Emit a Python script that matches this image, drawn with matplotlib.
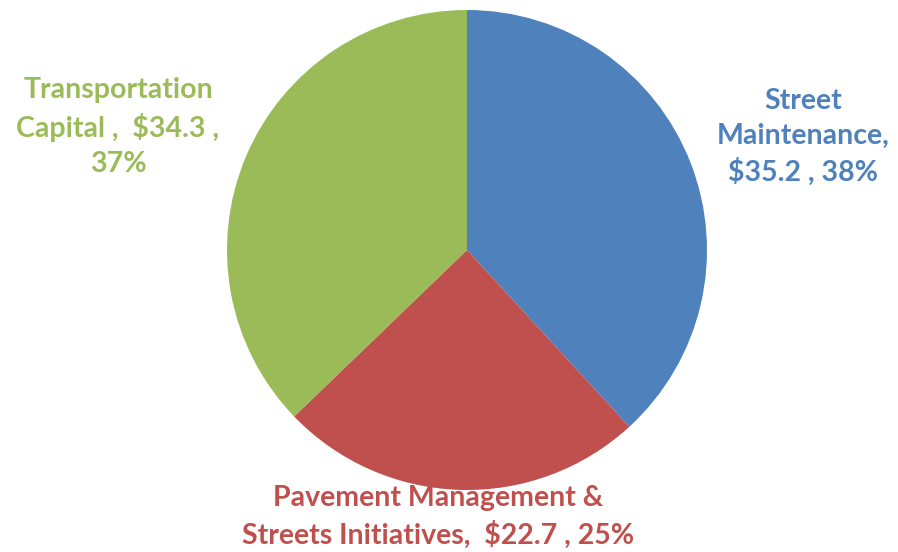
import matplotlib
matplotlib.use('Agg')
import matplotlib.pyplot as plt

# slice data
labels = ['Street\nMaintenance,\n$35.2 , 38%',
          'Pavement Management &\nStreets Initiatives,  $22.7 , 25%',
          'Transportation\nCapital ,  $34.3 ,\n37%']
values = [35.2, 22.7, 34.3]
colors = ['#4F81BD', '#C0504D', '#9BBB59']
text_colors = ['#4F81BD', '#C0504D', '#9BBB59']

W, H = 898, 552
cx, cy, r = 467, 250, 240

fig = plt.figure(figsize=(W / 100, H / 100), dpi=100)
ax = fig.add_axes([(cx - r) / W, (H - cy - r) / H, 2 * r / W, 2 * r / H])
ax.pie(values, colors=colors, startangle=90, counterclock=False, radius=1,
       wedgeprops=dict(linewidth=0))
ax.set_xlim(-1, 1)
ax.set_ylim(-1, 1)
ax.set_aspect('equal')
ax.axis('off')

# label positions in pixels of the reference, converted to data units
label_px = [(803, 137), (438, 517), (118, 127)]
for lab, (px, py), tc in zip(labels, label_px, text_colors):
    ax.text((px - cx) / r, (cy - py) / r, lab, ha='center', va='center',
            color=tc, fontsize=20.5, fontweight='bold', family='Lato',
            linespacing=1.42, clip_on=False)

fig.savefig('out.png', dpi=100)
